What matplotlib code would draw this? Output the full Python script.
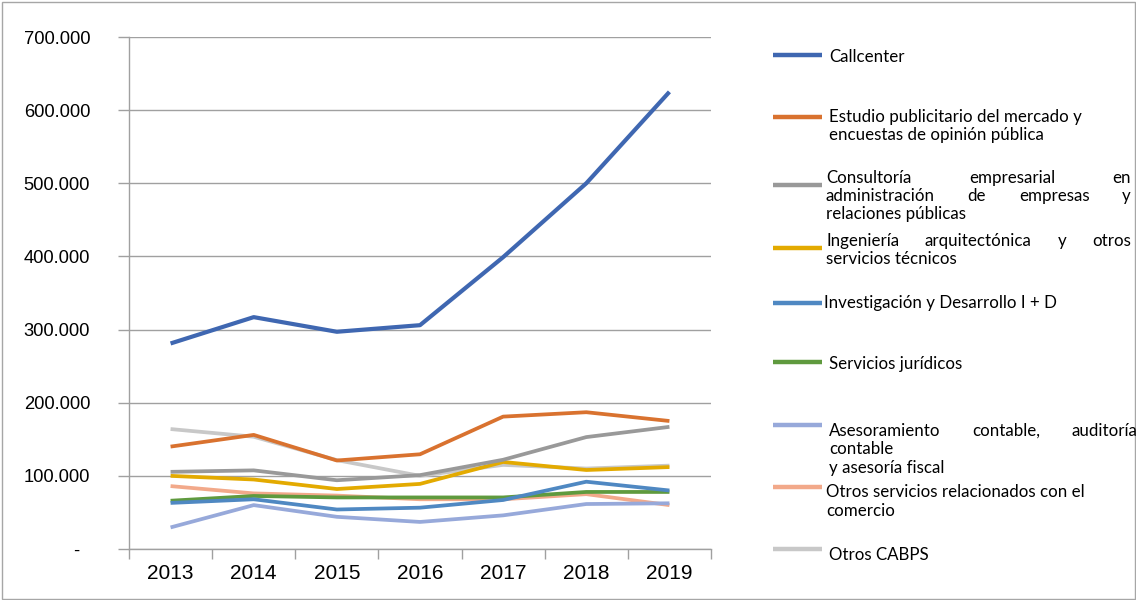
import matplotlib
matplotlib.use("Agg")
import matplotlib.pyplot as plt
from matplotlib.lines import Line2D
from matplotlib.patches import Rectangle
from matplotlib.ticker import FixedLocator, NullFormatter, FixedFormatter

years = ["2013", "2014", "2015", "2016", "2017", "2018", "2019"]

callcenter = [281000, 317000, 297000, 306000, 399000, 500000, 625000]
estudio = [140000, 156000, 121000, 129500, 181000, 187000, 175000]
consultoria = [105500, 107500, 94000, 101000, 122000, 153000, 167000]
ingenieria = [100000, 95000, 82000, 89000, 119000, 108000, 112000]
investigacion = [63000, 68000, 54000, 56500, 67000, 92000, 80000]
juridicos = [66000, 72500, 70500, 70500, 70500, 78000, 78000]
asesoramiento = [29500, 60000, 44000, 37000, 46000, 61500, 62500]
otros_comercio = [86000, 76000, 73000, 68000, 68000, 75000, 60000]
otros_cabps = [164000, 153500, 121500, 100000, 115000, 110000, 114000]

y_ticks = [0, 100000, 200000, 300000, 400000, 500000, 600000, 700000]
y_labels = ["-  ", "100.000", "200.000", "300.000", "400.000", "500.000", "600.000", "700.000"]

series = [
    (callcenter, "#3F67B1", ["Callcenter"], False),
    (estudio, "#D9722F", ["Estudio publicitario del mercado y", "encuestas de opinión pública"], False),
    (consultoria, "#999999", ["Consultoría empresarial en", "administración de empresas y", "relaciones públicas"], True),
    (ingenieria, "#E3AA00", ["Ingeniería arquitectónica y otros", "servicios técnicos"], True),
    (investigacion, "#4F88C2", ["Investigación y Desarrollo I + D"], False),
    (juridicos, "#5F9A3E", ["Servicios jurídicos"], False),
    (asesoramiento, "#97A9DA", ["Asesoramiento contable, auditoría", "contable", "y asesoría fiscal"], True),
    (otros_comercio, "#F2A98A", ["Otros servicios relacionados con el", "comercio"], False),
    (otros_cabps, "#C8C8C8", ["Otros CABPS"], False),
]

W, H = 1136, 600
fig = plt.figure(figsize=(W / 100, H / 100), dpi=100)
fig.patch.set_facecolor("white")

L, R, T, B = 129, 711, 37, 549
ax = fig.add_axes([L / W, 1 - B / H, (R - L) / W, (B - T) / H])

x = list(range(len(years)))
draw_order = [8, 7, 6, 5, 4, 3, 2, 1, 0]
for i in draw_order:
    vals, col, _, _ = series[i]
    lw = 3.0 if i == 0 else 2.7
    ax.plot(x, vals, color=col, lw=lw, solid_capstyle="butt", zorder=3 + (9 - i) * 0.01)

ax.set_xlim(-0.5, len(years) - 0.5)
ax.set_ylim(0, 700000)
ax.set_yticks(y_ticks)
ax.set_yticklabels(y_labels)
ax.xaxis.set_major_locator(FixedLocator([i - 0.5 for i in range(len(years) + 1)]))
ax.xaxis.set_major_formatter(NullFormatter())
ax.xaxis.set_minor_locator(FixedLocator(x))
ax.xaxis.set_minor_formatter(FixedFormatter(years))
ax.tick_params(axis="x", which="major", direction="out", length=7, color="#A0A0A0", width=1)
ax.tick_params(axis="x", which="minor", length=0, pad=11, labelsize=15)
ax.tick_params(axis="y", direction="out", length=8, color="#A0A0A0", width=1, pad=20, labelsize=13.2)
for lab in ax.get_xticklabels(minor=True) + ax.get_yticklabels():
    lab.set_fontfamily("Liberation Sans")
ax.grid(axis="y", color="#A0A0A0", lw=1)
ax.set_axisbelow(True)
for s in ["top", "right"]:
    ax.spines[s].set_visible(False)
for s in ["left", "bottom"]:
    ax.spines[s].set_color("#A0A0A0")
    ax.spines[s].set_linewidth(1)

# legend (manual)
leg_line_y = [55, 117, 185, 248, 303, 362, 425, 487, 549]
leg_text_y = [[57], [117, 135], [178, 196, 214], [241, 259], [303], [364], [431, 449, 468], [492, 511], [555]]
leg_text_x = [829, 829, 826, 826, 824, 829, 829, 826, 829]
just_right = 1131
lfont = dict(family="Lato", size=12.2, color="black")

fig.canvas.draw()
renderer = fig.canvas.get_renderer()

def px(xp, yp):
    return xp / W, 1 - yp / H

for k, (vals, col, lines, justified) in enumerate(series):
    ly = leg_line_y[k]
    fig.add_artist(Line2D([773 / W, 822 / W], [1 - ly / H, 1 - ly / H], color=col, lw=3.2,
                          transform=fig.transFigure, solid_capstyle="butt"))
    for j, txt in enumerate(lines):
        ty = leg_text_y[k][j]
        x0 = leg_text_x[k]
        words = txt.split(" ")
        last_line = j == len(lines) - 1
        if justified and not last_line and len(words) > 1 and not (k == 6 and j == 1):
            arts = []
            widths = []
            for w_ in words:
                t = fig.text(0, 0, w_, va="center", ha="left", **lfont)
                widths.append(t.get_window_extent(renderer).width)
                arts.append(t)
            right = just_right if not (k == 6 and j == 0) else 1137
            gap = (right - x0 - sum(widths)) / (len(words) - 1)
            cx = x0
            for t, wd in zip(arts, widths):
                t.set_position(px(cx, ty))
                cx += wd + gap
        else:
            fig.text(*px(x0, ty), txt, va="center", ha="left", **lfont)

fig.add_artist(Rectangle((1.5 / W, 1.5 / H), (W - 3) / W, (H - 3) / H, transform=fig.transFigure,
                         fill=False, edgecolor="#A6A6A6", lw=1))

fig.savefig("out.png", dpi=100)
